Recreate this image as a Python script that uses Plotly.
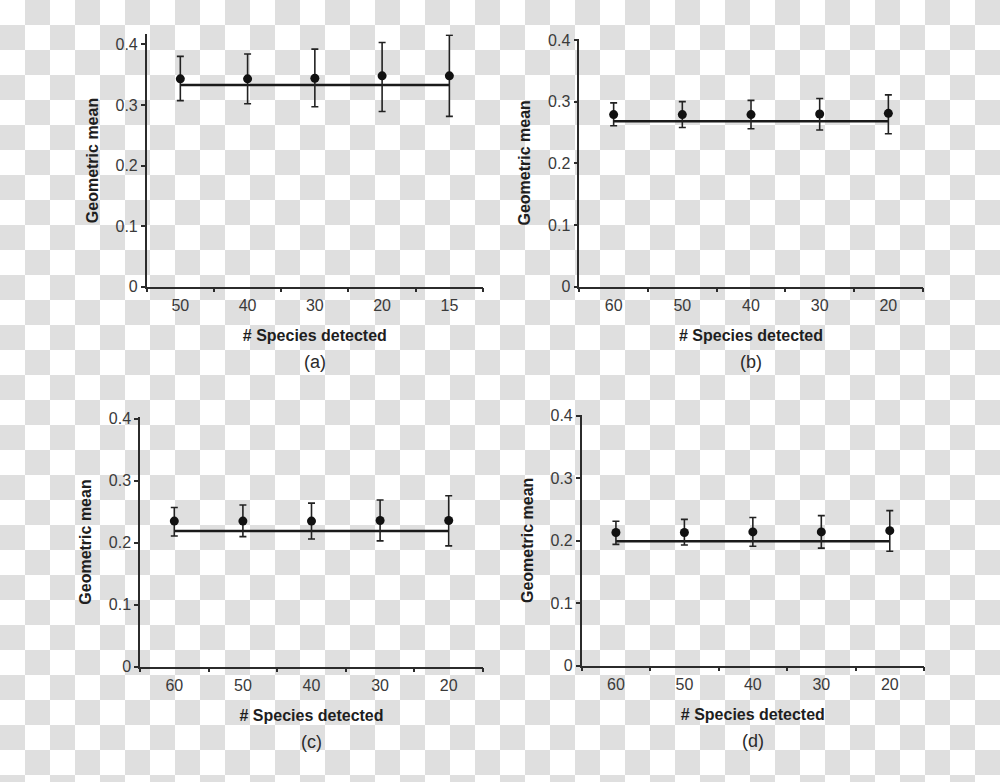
import base64
import plotly.graph_objects as go

# ---------------- data ----------------
cats_a = ["50", "40", "30", "20", "15"]
mean_a = [0.343, 0.343, 0.344, 0.348, 0.348]
up_a = [0.380, 0.384, 0.392, 0.403, 0.415]
lo_a = [0.307, 0.302, 0.297, 0.289, 0.281]
overall_a = 0.333

cats_b = ["60", "50", "40", "30", "20"]
mean_b = [0.279, 0.279, 0.279, 0.280, 0.281]
up_b = [0.298, 0.300, 0.302, 0.305, 0.311]
lo_b = [0.261, 0.258, 0.256, 0.254, 0.248]
overall_b = 0.268

cats_c = ["60", "50", "40", "30", "20"]
mean_c = [0.235, 0.235, 0.235, 0.236, 0.236]
up_c = [0.257, 0.261, 0.264, 0.269, 0.276]
lo_c = [0.211, 0.210, 0.206, 0.203, 0.195]
overall_c = 0.219

cats_d = ["60", "50", "40", "30", "20"]
mean_d = [0.213, 0.213, 0.214, 0.214, 0.216]
up_d = [0.231, 0.234, 0.237, 0.240, 0.248]
lo_d = [0.194, 0.193, 0.191, 0.188, 0.183]
overall_d = 0.199

y_ticks = [0, 0.1, 0.2, 0.3, 0.4]
y_ticktext = ["0", "0.1", "0.2", "0.3", "0.4"]
panel_labels = ["(a)", "(b)", "(c)", "(d)"]
x_title = "# Species detected"
y_title = "Geometric mean"

# ---------------- layout geometry ----------------
W, H = 1000, 782
panels = [
    dict(cats=cats_a, mean=mean_a, up=up_a, lo=lo_a, overall=overall_a,
         xdom=(146.7, 483.0), ybot=286.7, ytop=34.3, ymax=0.4165),
    dict(cats=cats_b, mean=mean_b, up=up_b, lo=lo_b, overall=overall_b,
         xdom=(579.3, 922.7), ybot=286.7, ytop=39.0, ymax=0.4015),
    dict(cats=cats_c, mean=mean_c, up=up_c, lo=lo_c, overall=overall_c,
         xdom=(140.0, 483.0), ybot=666.7, ytop=417.3, ymax=0.4025),
    dict(cats=cats_d, mean=mean_d, up=up_d, lo=lo_d, overall=overall_d,
         xdom=(581.7, 924.0), ybot=665.7, ytop=415.0, ymax=0.401),
]

fig = go.Figure()
axis_color = "#2b2b2b"
FAM = "Liberation Sans, Arial, sans-serif"
font_tick = dict(family=FAM, size=16, color="#3a3a3a")
font_title = dict(family=FAM, size=16, color="#1e1e1e")

annotations = []
for i, p in enumerate(panels):
    n = "" if i == 0 else str(i + 1)
    xa = "x" + n
    ya = "y" + n
    # overall mean line
    fig.add_trace(go.Scatter(
        x=p["cats"], y=[p["overall"]] * len(p["cats"]), mode="lines",
        line=dict(color="#1a1a1a", width=2.5), xaxis=xa, yaxis=ya,
        showlegend=False, hoverinfo="skip"))
    # points with error bars
    fig.add_trace(go.Scatter(
        x=p["cats"], y=p["mean"], mode="markers",
        marker=dict(color="#111111", size=9), cliponaxis=False,
        error_y=dict(type="data", symmetric=False,
                     array=[u - m for u, m in zip(p["up"], p["mean"])],
                     arrayminus=[m - l for m, l in zip(p["mean"], p["lo"])],
                     color="#222222", thickness=1.6, width=3.5),
        xaxis=xa, yaxis=ya, showlegend=False))

    xd = [p["xdom"][0] / W, p["xdom"][1] / W]
    yd = [1 - p["ybot"] / H, 1 - p["ytop"] / H]
    fig.update_layout({
        "xaxis" + n: dict(
            domain=xd, anchor=ya, type="category", range=[-0.5, 4.5],
            categoryorder="array", categoryarray=p["cats"],
            tickson="boundaries", ticks="outside", ticklen=4, tickwidth=1.5,
            tickcolor=axis_color, showline=True, linecolor=axis_color, linewidth=1.5,
            showgrid=False, zeroline=False, automargin=False,
            tickfont=font_tick, ticklabelstandoff=3,
            title=dict(text="<b>" + x_title + "</b>", font=font_title, standoff=17)),
        "yaxis" + n: dict(
            domain=yd, anchor=xa, range=[0, p["ymax"]],
            tickvals=y_ticks, ticktext=y_ticktext,
            ticks="outside", ticklen=4, tickwidth=1.5, tickcolor=axis_color,
            showline=True, linecolor=axis_color, linewidth=1.5,
            showgrid=False, zeroline=False, automargin=False,
            tickfont=font_tick,
            title=dict(text="<b>" + y_title + "</b>", font=font_title, standoff=13)),
    })
    annotations.append(dict(
        text=panel_labels[i], xref="paper", yref="paper",
        x=(xd[0] + xd[1]) / 2, y=1 - (p["ybot"] + 75) / H,
        xanchor="center", yanchor="middle", showarrow=False,
        font=dict(family=FAM, size=18, color="#2a2a2a")))

# checkerboard background (as in the reference picture)
svg = ('<svg xmlns="http://www.w3.org/2000/svg" width="1000" height="782">'
       '<defs><pattern id="p" width="50" height="50" patternUnits="userSpaceOnUse">'
       '<rect width="50" height="50" fill="#ffffff"/>'
       '<rect x="25" y="0" width="25" height="25" fill="#dfdfdf"/>'
       '<rect x="0" y="25" width="25" height="25" fill="#dfdfdf"/>'
       '</pattern></defs><rect width="1000" height="782" fill="url(#p)"/></svg>')
src = "data:image/svg+xml;base64," + base64.b64encode(svg.encode()).decode()

fig.update_layout(
    width=W, height=H, margin=dict(l=0, r=0, t=0, b=0),
    paper_bgcolor="white", plot_bgcolor="rgba(0,0,0,0)",
    template="none", annotations=annotations,
    images=[dict(source=src, xref="paper", yref="paper", x=0, y=1,
                 sizex=1, sizey=1, xanchor="left", yanchor="top",
                 sizing="stretch", layer="below")],
)

fig.write_html(
    "out.html",
    config={"displayModeBar": False},
    post_script="document.body.style.margin='0';document.body.style.overflow='hidden';")
